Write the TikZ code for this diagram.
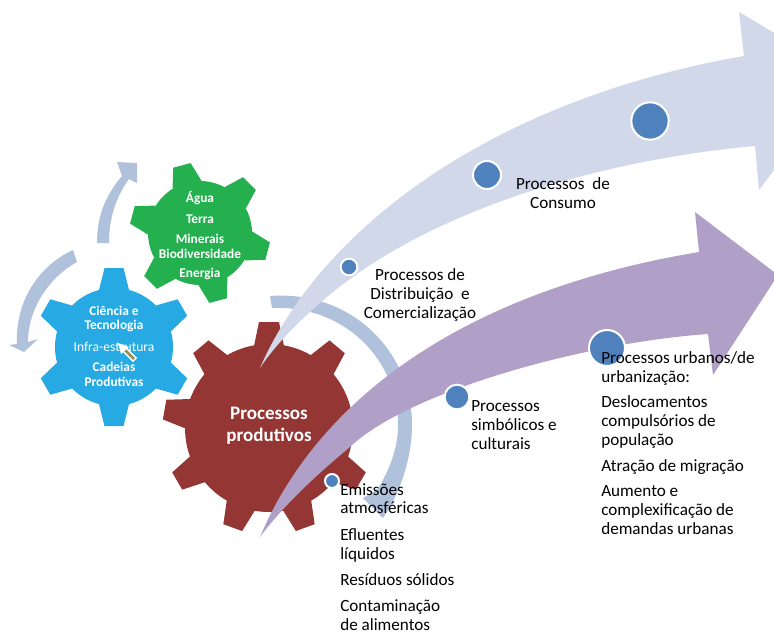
\documentclass[tikz,border=0pt]{standalone}
\usepackage{fontspec}
\setmainfont{Carlito}
\definecolor{ringblue}{HTML}{B0C1DC}
\definecolor{paleblue}{HTML}{D1D8E9}
\definecolor{palepurple}{HTML}{B09FC6}
\definecolor{dotblue}{HTML}{4F81BD}
\definecolor{gearblue}{HTML}{27AAE3}
\definecolor{geargreen}{HTML}{25B04F}
\definecolor{gearred}{HTML}{943634}
\definecolor{olive}{HTML}{9C8C50}
\tikzset{
  dot/.style={circle, fill=dotblue, draw=white, line width=1.5pt, inner sep=0pt},
  txt/.style={inner sep=0pt, text=black, font=\fontsize{12.85}{14.2}\selectfont},
  gearlbl/.style={inner sep=0pt, text=white, font=\fontsize{10}{11}\selectfont\bfseries}
}
% center, body radius, outer radius, half base, half top, colour, angles
\newcommand{\gearshape}[7]{
  \begin{scope}[shift={#1}]
    \fill[#6] (0,0) circle [radius=#2];
    \foreach \ang in {#7}
      \fill[#6, rotate=\ang] (#2-2,-#4) -- (#3,-#5) -- (#3,#5) -- (#2-2,#4) -- cycle;
  \end{scope}
}
\begin{document}
\begin{tikzpicture}[x=0.75pt, y=-0.75pt]
  \useasboundingbox (0,0) rectangle (774,632);

  % small arrows round the gears
  \fill[ringblue] (97,243) .. controls (97,215) and (106,195) .. (122,176) -- (117,162) -- (137,163) -- (137,183) -- (129,179) .. controls (116,197) and (109,218) .. (109,243) -- cycle;
  \fill[ringblue] (73,250) .. controls (40,265) and (15,300) .. (17,344) -- (9,345) -- (24,352) -- (38,339) -- (28,342) .. controls (28,310) and (48,278) .. (77,262) -- cycle;

  % gears
  \gearshape{(200,233)}{52}{70}{15}{9}{geargreen}{105,45,-15,-75,-135,165}
  \gearshape{(114,347)}{59}{79}{15}{9.5}{gearblue}{90,30,-30,-90,-150,150}
  \gearshape{(269,428)}{84}{106}{15}{10}{gearred}{90,50,-30,-70,-110,-150,170,130}

  % ring round the red gear
  \fill[ringblue] (270,296) .. controls (350,290) and (412,350) .. (412,425) .. controls (412,455) and (402,490) .. (383,518) -- (363,498) -- (378,489) .. controls (392,465) and (398,445) .. (398,425) .. controls (398,360) and (345,305) .. (272,308) -- cycle;

  % big arrows
  \begin{scope}
    \clip (0,0) rectangle (774,632);
    \fill[paleblue] (260,368) .. controls (320,230) and (490,100) .. (744,56) -- (739,12) -- (845,75) -- (759,190) -- (755,146) .. controls (600,160) and (430,210) .. (327,297) .. controls (300,320) and (275,345) .. (260,368) -- cycle;
    \fill[palepurple] (260,537) .. controls (320,395) and (470,290) .. (699,252) -- (695,212) -- (778,275) -- (713,375) -- (708,334) .. controls (590,342) and (410,390) .. (350,447) .. controls (310,480) and (280,510) .. (260,537) -- cycle;
  \end{scope}

  % dots
  \node (dotdist) [dot, minimum size=12.5pt] at (349,267) {};
  \node (dotcons) [dot, minimum size=21pt] at (487,175) {};
  \node (dotfar) [dot, minimum size=28pt] at (650,121) {};
  \node (dotemis) [dot, minimum size=10.5pt] at (332,481) {};
  \node (dotsimb) [dot, minimum size=18.5pt] at (457,397) {};
  \node (doturb) [dot, minimum size=27pt] at (607,348) {};

  % gear labels
  \node (agua) [gearlbl] at (200,198) {Água};
  \node (terra) [gearlbl] at (200,219) {Terra};
  \node (minerais) [gearlbl] at (200,239) {Minerais};
  \node (biodiv) [gearlbl] at (200,254) {Biodiversidade};
  \node (energia) [gearlbl] at (200,274) {Energia};
  \node (ciencia) [gearlbl] at (114,311) {Ciência e};
  \node (tecno) [gearlbl] at (114,326) {Tecnologia};
  \node (infra) [gearlbl, font=\fontsize{10.2}{11}\selectfont] at (114,347) {Infra-estrutura};
  \node (cadeias) [gearlbl] at (114,367) {Cadeias};
  \node (cadprod) [gearlbl] at (114,382) {Produtivas};
  \node (prod) [gearlbl, align=center, font=\fontsize{14.3}{16.5}\selectfont\bfseries] at (269,426) {Processos\\produtivos};

  % cursor
  \draw[white, line width=4.5pt] (124,349) -- (135,360);
  \draw[olive, line width=2pt] (122,347) -- (134,359);
  \fill[white] (118,343) -- (129,347) -- (121,354) -- cycle;

  % texts
  \node (consumo) [txt, align=center, anchor=north] at (563,177) {Processos\ \ de\\Consumo};
  \node (distrib) [txt, align=center, anchor=north] at (420,268) {Processos de\\Distribuição\ \ e\\Comercialização};
  \node (emis) [txt, align=left, anchor=north west] at (340,483) {Emissões\\atmosféricas\\[5.5pt]Efluentes\\líquidos\\[5.5pt]Resíduos sólidos\\[5.5pt]Contaminação\\de alimentos};
  \node (simb) [txt, align=left, anchor=north west] at (471,400) {Processos\\simbólicos e\\culturais};
  \node (urb) [txt, align=left, anchor=north west] at (601,351) {Processos urbanos/de\\urbanização:\\[5pt]Deslocamentos\\compulsórios de\\população\\[5pt]Atração de migração\\[5pt]Aumento e\\complexificação de\\demandas urbanas};
\end{tikzpicture}
\end{document}
